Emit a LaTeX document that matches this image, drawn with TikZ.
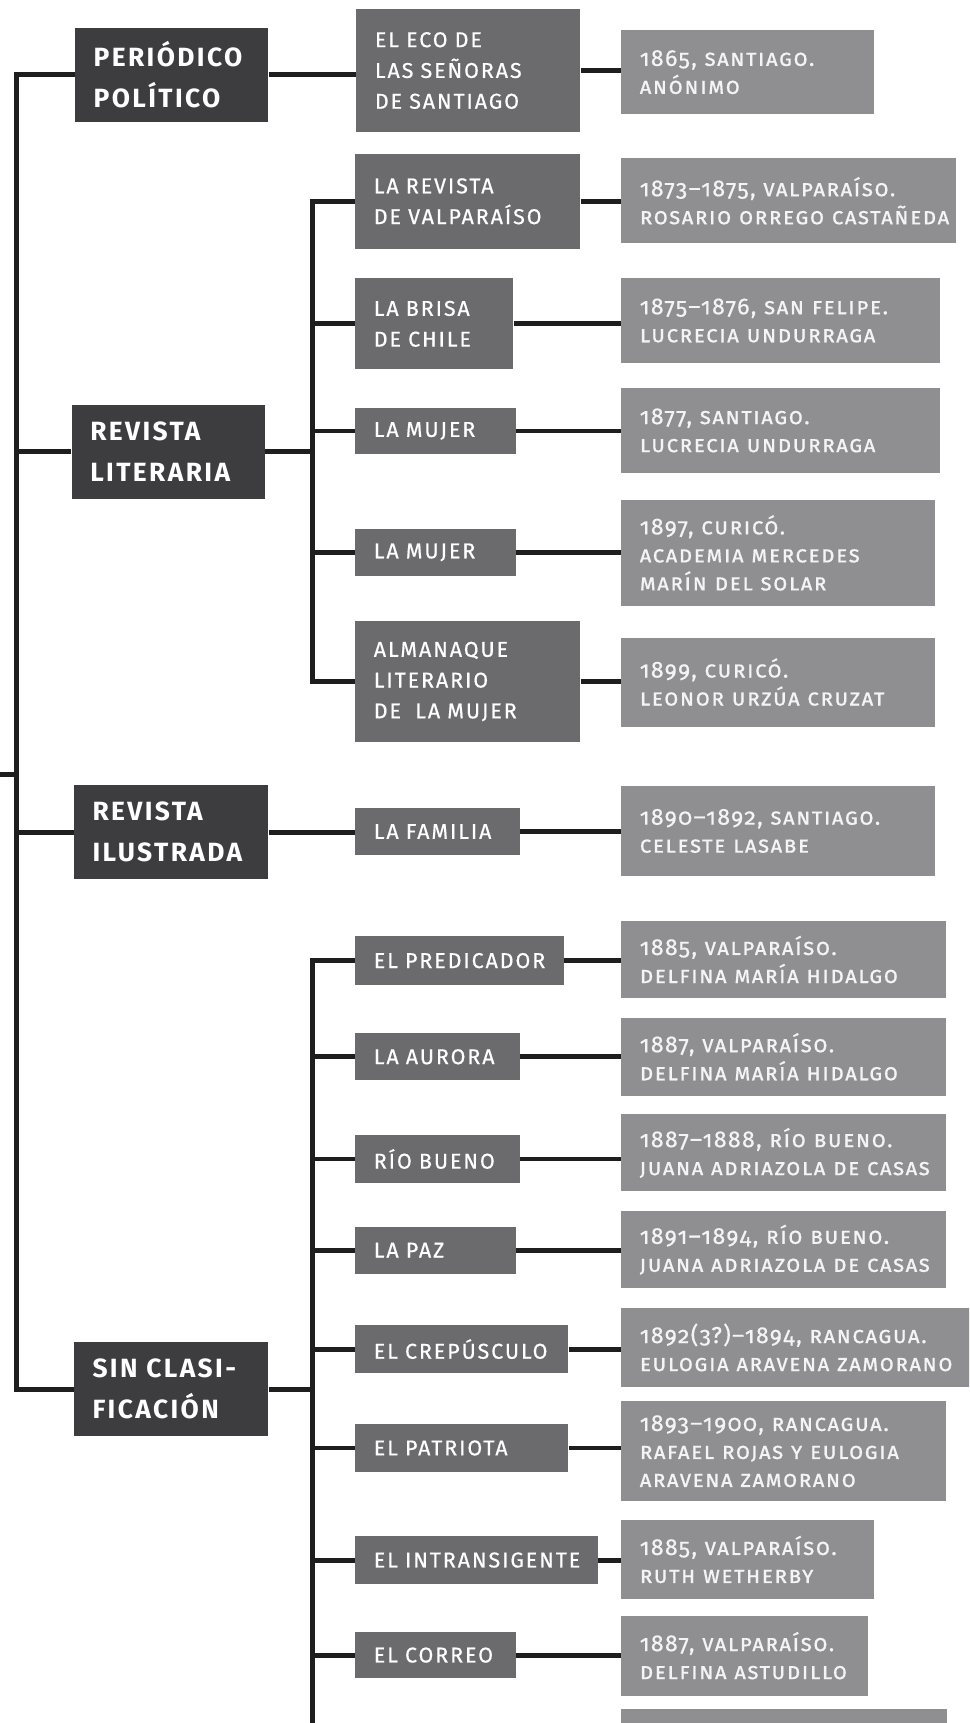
\documentclass[tikz,border=0pt]{standalone}
\usepackage{fontspec}
\setmainfont{Fira Sans}[Numbers=OldStyle]
\newfontfamily\fone{Fira Sans}[LetterSpace=9]
\newfontfamily\ftwo{Fira Sans}[LetterSpace=9,FakeBold=0.6]
\newfontfamily\fthree{Fira Sans}[LetterSpace=6,Numbers=OldStyle,Letters=UppercaseSmallCaps,FakeBold=0.6]
\definecolor{cone}{HTML}{3D3D3F}
\definecolor{ctwo}{HTML}{6B6B6D}
\definecolor{cthree}{HTML}{8F8F92}
\definecolor{tthree}{HTML}{F4F4F4}
\definecolor{cline}{HTML}{1E1E1E}
\tikzset{
  box/.style={anchor=north west, inner xsep=17pt, inner ysep=0pt, align=left, text=white,
    execute at begin node={\hyphenpenalty=10000\exhyphenpenalty=10000\hbadness=10000\hfuzz=300pt}},
  levone/.style={box, fill=cone, font=\fone\bfseries\fontsize{24}{37}\selectfont},
  levtwo/.style={box, fill=ctwo, font=\ftwo\fontsize{19.5}{28}\selectfont},
  levthree/.style={box, fill=cthree, text=tthree, font=\fthree\fontsize{21}{25.5}\selectfont},
  conn/.style={line width=4.5pt, draw=cline},
}
\newcommand\bx[7]{%
  \pgfmathsetmacro\bxw{#4-#2-34}%
  \pgfmathsetmacro\bxh{#5-#3}%
  \node[#6, text width=\bxw pt, minimum height=\bxh pt] (#1) at (#2,#3) {#7};}
\begin{document}
\begin{tikzpicture}[x=1pt,y=-1pt]
\useasboundingbox (0,0) rectangle (882,1568);
\fill[white] (0,0) rectangle (882,1568);
\clip (0,0) rectangle (882,1568);
% level 1
\bx{p1}{68}{25}{244}{111}{levone}{PERIÓDICO\\POLÍTICO}
\bx{p2}{65}{368}{241}{454}{levone}{REVISTA\\LITERARIA}
\bx{p3}{67}{714}{244}{800}{levone}{REVISTA\\ILUSTRADA}
\bx{p4}{67}{1221}{244}{1307}{levone}{SIN~CLASI-\\FICACIÓN}
% level 2
\bx{a}{324}{8}{528}{120}{levtwo}{EL~ECO~DE\\LAS~SEÑORAS\\DE~SANTIAGO}
\bx{b}{323}{140}{528}{226}{levtwo}{LA~REVISTA\\DE~VALPARAÍSO}
\bx{c}{323}{253}{467}{336}{levtwo}{LA~BRISA\\DE~CHILE}
\bx{d}{323}{371}{469}{413}{levtwo}{LA~MUJER}
\bx{e}{323}{481}{469}{524}{levtwo}{LA~MUJER}
\bx{f}{323}{565}{528}{675}{levtwo}{ALMANAQUE\\LITERARIO\\DE~~LA~MUJER}
\bx{g}{323}{735}{473}{778}{levtwo}{LA~FAMILIA}
\bx{h}{323}{852}{513}{896}{levtwo}{EL~PREDICADOR}
\bx{i}{323}{940}{473}{983}{levtwo}{LA~AURORA}
\bx{j}{323}{1033}{473}{1076}{levtwo}{RÍO~BUENO}
\bx{k}{323}{1116}{469}{1159}{levtwo}{LA~PAZ}
\bx{l}{323}{1206}{517}{1249}{levtwo}{EL~CREPÚSCULO}
\bx{m}{323}{1296}{517}{1339}{levtwo}{EL~PATRIOTA}
\bx{n}{323}{1398}{544}{1441}{levtwo}{EL~INTRANSIGENTE}
\bx{o}{323}{1485}{469}{1527}{levtwo}{EL~CORREO}
% level 3
\bx{A}{565}{27}{795}{104}{levthree}{1865,~SANTIAGO.\\ANÓNIMO}
\bx{B}{565}{144}{870}{221}{levthree}{1873–1875,~VALPARAÍSO.\\ROSARIO~ORREGO~CASTAÑEDA}
\bx{C}{565}{253}{855}{330}{levthree}{1875–1876,~SAN~FELIPE.\\LUCRECIA~UNDURRAGA}
\bx{D}{565}{353}{855}{430}{levthree}{1877,~SANTIAGO.\\LUCRECIA~UNDURRAGA}
\bx{E}{565}{455}{851}{551}{levthree}{1897,~CURICÓ.\\ACADEMIA~MERCEDES\\MARÍN~DEL~SOLAR}
\bx{F}{565}{580}{851}{661}{levthree}{1899,~CURICÓ.\\LEONOR~URZÚA~CRUZAT}
\bx{G}{565}{715}{851}{797}{levthree}{1890–1892,~SANTIAGO.\\CELESTE~LASABE}
\bx{H}{565}{838}{861}{908}{levthree}{1885,~VALPARAÍSO.\\DELFINA~MARÍA~HIDALGO}
\bx{I}{565}{926}{861}{997}{levthree}{1887,~VALPARAÍSO.\\DELFINA~MARÍA~HIDALGO}
\bx{J}{565}{1014}{861}{1084}{levthree}{1887–1888,~RÍO~BUENO.\\JUANA~ADRIAZOLA~DE~CASAS}
\bx{K}{565}{1102}{861}{1172}{levthree}{1891–1894,~RÍO~BUENO.\\JUANA~ADRIAZOLA~DE~CASAS}
\bx{L}{565}{1190}{886}{1262}{levthree}{1892(3?)–1894,~RANCAGUA.\\EULOGIA~ARAVENA~ZAMORANO}
\bx{M}{565}{1275}{861}{1366}{levthree}{1893–1900,~RANCAGUA.\\RAFAEL~ROJAS~Y~EULOGIA\\ARAVENA~ZAMORANO}
\bx{N}{565}{1383}{795}{1455}{levthree}{1885,~VALPARAÍSO.\\RUTH~WETHERBY}
\bx{O}{565}{1470}{790}{1543}{levthree}{1887,~VALPARAÍSO.\\DELFINA~ASTUDILLO}
\bx{P}{565}{1555}{862}{1630}{levthree}{}
% spine
\coordinate (sx) at (15,0);
\coordinate (in) at (0,705);
\coordinate (jx) at (284,0);
\coordinate (jb) at (284,1600);
\draw[conn] (p1.west) -| (p4.west -| sx) -- (p4.west);
\draw[conn] (p2.west) -- (p2.west -| sx);
\draw[conn] (p3.west) -- (p3.west -| sx);
\draw[conn] (in) -- (in -| sx);
% level 1 to level 2
\draw[conn] (p1.east) -- (p1.east -| a.west);
\draw[conn] (p3.east) -- (p3.east -| g.west);
\draw[conn] (p2.east) -- (p2.east -| jx);
\draw[conn] (b.west) -| (f.west -| jx) -- (f.west);
\foreach \n in {c,d,e} \draw[conn] (\n.west) -- (\n.west -| jx);
\draw[conn] (p4.east) -- (p4.east -| jx);
\draw[conn] (h.west) -| (jb);
\foreach \n in {i,j,k,l,m,n,o} \draw[conn] (\n.west) -- (\n.west -| jx);
% level 2 to level 3
\foreach \s/\t in {a/A,b/B,c/C,d/D,e/E,f/F,g/G,h/H,i/I,j/J,k/K,l/L,m/M,n/N,o/O}
  \draw[conn] (\s.east) -- (\s.east -| \t.west);
\end{tikzpicture}
\end{document}
